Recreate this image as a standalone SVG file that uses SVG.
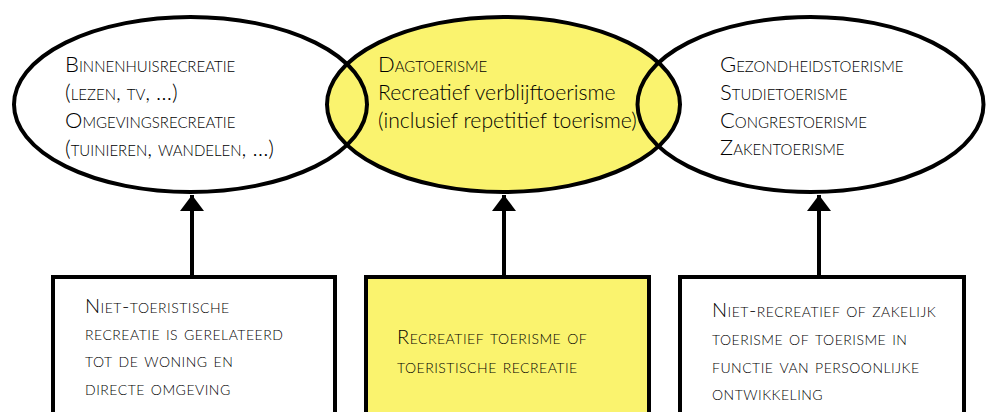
<svg xmlns="http://www.w3.org/2000/svg" width="986" height="412" viewBox="0 0 986 412">
  <style>
    .outline { fill: none; stroke: #000; stroke-width: 4; }
    .white { fill: #fff; stroke: none; }
    .yellow { fill: #faf36e; stroke: none; }
    .box { stroke: #000; stroke-width: 4; }
    .txt { font-family: Lato, "Open Sans", "Liberation Sans", sans-serif; font-size: 22px; font-weight: 300; fill: #000; }
    .lc { font-size: 21.2px; }
    .sc { font-variant: small-caps; }
    .btxt { font-family: Lato, "Open Sans", "Liberation Sans", sans-serif; font-size: 20px; font-weight: 300; fill: #000; font-variant: small-caps; letter-spacing: 0.5px; }
    .conn { stroke: #000; stroke-width: 4; fill: none; }
  </style>
  <defs>
    <marker id="head" markerUnits="userSpaceOnUse" markerWidth="16" markerHeight="24" viewBox="0 0 16 24" refX="16" refY="12" orient="auto">
      <polygon points="0,0 16,12 0,24" fill="#000"/>
    </marker>
  </defs>

  <!-- ellipse fills: white outer circles, yellow centre circle on top -->
  <ellipse class="white" cx="190.5" cy="104.5" rx="176.5" ry="87.5"/>
  <ellipse class="white" cx="810.5" cy="104.5" rx="173" ry="87.5"/>
  <ellipse class="yellow" cx="503.5" cy="104.5" rx="176.5" ry="87.5"/>

  <g id="ellipse-left">
    <ellipse class="outline" cx="190.5" cy="104.5" rx="176.5" ry="87.5"/>
    <text class="txt sc" x="65" y="72">Binnenhuisrecreatie</text>
    <text class="txt sc" x="65" y="100">(lezen, tv, …)</text>
    <text class="txt sc" x="65" y="128">Omgevingsrecreatie</text>
    <text class="txt sc" x="65" y="156">(tuinieren, wandelen, …)</text>
  </g>

  <g id="ellipse-middle">
    <ellipse class="outline" cx="503.5" cy="104.5" rx="176.5" ry="87.5"/>
    <text class="txt sc" x="378" y="72">Dagtoerisme</text>
    <text class="txt lc" x="378" y="100">Recreatief verblijftoerisme</text>
    <text class="txt lc" x="378" y="128">(inclusief repetitief toerisme)</text>
  </g>

  <g id="ellipse-right">
    <ellipse class="outline" cx="810.5" cy="104.5" rx="173" ry="87.5"/>
    <text class="txt sc" x="720" y="72">Gezondheidstoerisme</text>
    <text class="txt sc" x="720" y="100">Studietoerisme</text>
    <text class="txt sc" x="720" y="128">Congrestoerisme</text>
    <text class="txt sc" x="720" y="155">Zakentoerisme</text>
  </g>

  <g id="box-left">
    <rect class="box" x="53" y="277" width="282" height="160" fill="#fff"/>
    <text class="btxt" x="85" y="313">Niet-toeristische</text>
    <text class="btxt" x="85" y="340">recreatie is gerelateerd</text>
    <text class="btxt" x="85" y="367">tot de woning en</text>
    <text class="btxt" x="85" y="395">directe omgeving</text>
  </g>

  <g id="box-middle">
    <rect class="box" x="366" y="277" width="283" height="160" fill="#faf36e"/>
    <text class="btxt" x="397" y="344">Recreatief toerisme of</text>
    <text class="btxt" x="397" y="373">toeristische recreatie</text>
  </g>

  <g id="box-right">
    <rect class="box" x="680" y="277" width="284" height="160" fill="#fff"/>
    <text class="btxt" x="712" y="317">Niet-recreatief of zakelijk</text>
    <text class="btxt" x="712" y="345">toerisme of toerisme in</text>
    <text class="btxt" x="712" y="373">functie van persoonlijke</text>
    <text class="btxt" x="712" y="400">ontwikkeling</text>
  </g>

  <g id="connectors">
    <line class="conn" x1="192" y1="276" x2="192" y2="195" marker-end="url(#head)"/>
    <line class="conn" x1="504" y1="276" x2="504" y2="195" marker-end="url(#head)"/>
    <line class="conn" x1="819" y1="276" x2="819" y2="195" marker-end="url(#head)"/>
  </g>
</svg>
